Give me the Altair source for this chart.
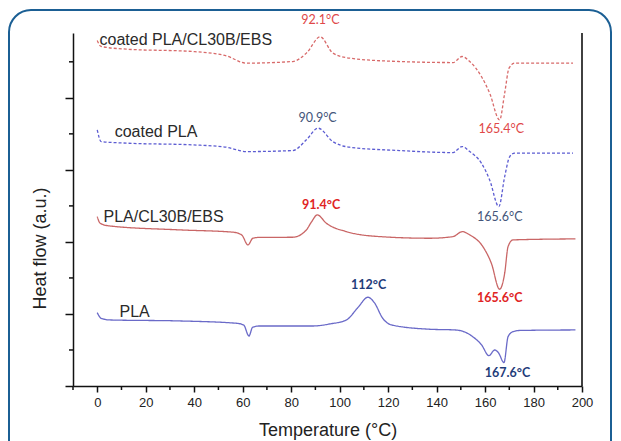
import altair as alt
import pandas as pd

# ---- data ----
pla_t = [0, 1.6, 5, 34, 57.4, 60.4, 62.6, 64.1, 67, 88.9, 95.9, 102.8, 107.4, 111.7, 114.4,
         117.7, 121.5, 137.1, 147.5, 151.6, 154.9, 158.6, 161.6, 164, 165.6, 167.8, 169.5,
         171.5, 174.3, 197.3]
pla_h = [1.018, 0.94, 0.917, 0.903, 0.871, 0.847, 0.694, 0.815, 0.833, 0.833, 0.861, 0.917,
         1.083, 1.232, 1.153, 0.944, 0.847, 0.788, 0.778, 0.75, 0.685, 0.569, 0.421, 0.5,
         0.458, 0.324, 0.685, 0.754, 0.771, 0.778]

ebs_t = [0, 1.2, 5, 34, 56, 59.6, 62.2, 64.2, 67, 80.7, 86.3, 88.4, 90.8, 94.5, 102.8, 116.5,
         137.1, 146.8, 150.6, 153.7, 159.1, 162.6, 166.0, 168.1, 169.5, 171.5, 197.3]
ebs_h = [2.351, 2.26, 2.222, 2.167, 2.135, 2.097, 1.958, 2.051, 2.063, 2.065, 2.167, 2.278,
         2.375, 2.26, 2.143, 2.074, 2.051, 2.074, 2.143, 2.097, 1.935, 1.704, 1.343, 1.565,
         1.935, 2.028, 2.042]

cpla_t = [0, 1.6, 12, 39.5, 53.2, 61.5, 80.7, 86.3, 91.1, 97.2, 104.1, 124.8, 146.8, 150.5,
          153.7, 158.5, 161.9, 165.7, 168.1, 170.2, 172.2, 196.3]
cpla_h = [3.556, 3.393, 3.371, 3.347, 3.315, 3.254, 3.268, 3.417, 3.579, 3.393, 3.315, 3.268,
          3.240, 3.324, 3.254, 3.093, 2.861, 2.490, 2.907, 3.185, 3.232, 3.232]

cebs_t = [0, 1.6, 12, 39.5, 53.2, 61.5, 80.7, 86.3, 92.0, 97.2, 104.1, 124.8, 146.8, 150.5,
          153.7, 158.5, 161.9, 166.0, 168.1, 169.9, 172.2, 196.3]
cebs_h = [4.796, 4.713, 4.676, 4.643, 4.583, 4.482, 4.504, 4.621, 4.847, 4.621, 4.551, 4.504,
          4.490, 4.574, 4.504, 4.296, 4.065, 3.694, 4.065, 4.413, 4.482, 4.482]

series_names = ["PLA", "PLA/CL30B/EBS", "coated PLA", "coated PLA/CL30B/EBS"]
series_colors = ["#6a6ac8", "#c96666", "#5c5cd2", "#d86a6a"]
series_dash = [[1, 0], [1, 0], [3, 2], [3, 2]]

# axis ticks
x_major = [0, 20, 40, 60, 80, 100, 120, 140, 160, 180, 200]
x_minor = [-10, 10, 30, 50, 70, 90, 110, 130, 150, 170, 190]
y_major = [0, 1, 2, 3, 4]
y_minor = [0.5, 1.5, 2.5, 3.5, 4.5]

# right edge of the plot box (T = 200, full height)
edge_t = [200, 200]
edge_h = [0, 4.9]

# curve name labels
name_text = ["PLA", "PLA/CL30B/EBS", "coated PLA", "coated PLA/CL30B/EBS"]
name_x = [9.2, 2.6, 7.2, 0.95]
name_y = [0.958, 2.27, 3.46, 4.736]

# temperature annotations
ann_text = ["112°C", "167.6°C", "91.4°C", "165.6°C", "90.9°C", "165.6°C", "92.1°C", "165.4°C"]
ann_x = [112, 169.3, 92.4, 166.1, 90.9, 166.1, 92.1, 166.7]
ann_y = [1.403, 0.185, 2.514, 1.218, 3.726, 2.351, 5.08, 3.565]
ann_color = ["#1f3d7a", "#1f3d7a", "#e02424", "#e02424", "#44557a", "#44557a", "#e04848", "#e04848"]
ann_bold = [True, True, True, True, False, False, False, False]

# ---- build tables ----
rows = []
for name, ts, hs in [("PLA", pla_t, pla_h), ("PLA/CL30B/EBS", ebs_t, ebs_h),
                     ("coated PLA", cpla_t, cpla_h), ("coated PLA/CL30B/EBS", cebs_t, cebs_h)]:
    for i, (t, h) in enumerate(zip(ts, hs)):
        rows.append({"series": name, "T": t, "H": h, "idx": i})
df = pd.DataFrame(rows)

names_df = pd.DataFrame({"x": name_x, "y": name_y, "text": name_text})
ann_df = pd.DataFrame({"x": ann_x, "y": ann_y, "text": ann_text, "c": ann_color, "b": ann_bold})
edge_df = pd.DataFrame({"ET": edge_t, "EH": edge_h, "k": [0, 1]})

W, H = 509, 353
xscale = alt.Scale(domain=[-10, 200], nice=False, zero=False)
yscale = alt.Scale(domain=[0, 4.9], nice=False, zero=False)

x_axis = alt.Axis(
    values=x_major, format="d",
    tickSize=6, tickColor="#111", tickWidth=1.5, domainColor="#111", domainWidth=1.5,
    labelFont="Liberation Sans", labelFontSize=13, labelColor="#222", labelPadding=4,
    labelOverlap=False, labelFlush=False,
    grid=False, title="Temperature (°C)", titleFont="Liberation Sans", titleFontSize=18,
    titleFontWeight="normal", titleColor="#222", titleY=44, titleBaseline="middle",
)
y_axis = alt.Axis(
    values=y_major, labels=False,
    tickSize=8, tickColor="#111", tickWidth=1.5, domainColor="#111", domainWidth=1.5,
    grid=False, title="Heat flow (a.u.)", titleFont="Liberation Sans", titleFontSize=18,
    titleFontWeight="normal", titleColor="#222", titleAngle=270, titleX=-33, titleY=215,
    titleBaseline="middle", titleAlign="center",
)

lines = alt.Chart(df).mark_line(strokeWidth=1.3, interpolate="monotone").encode(
    x=alt.X("T:Q", scale=xscale, axis=x_axis),
    y=alt.Y("H:Q", scale=yscale, axis=y_axis),
    color=alt.Color("series:N", scale=alt.Scale(domain=series_names, range=series_colors), legend=None),
    strokeDash=alt.StrokeDash("series:N", scale=alt.Scale(domain=series_names, range=series_dash), legend=None),
    detail="series:N",
    order="idx:Q",
)

edge = alt.Chart(edge_df).mark_line(color="#111", strokeWidth=1.6).encode(
    x=alt.X("ET:Q", scale=xscale),
    y=alt.Y("EH:Q", scale=yscale),
    order="k:Q",
)

x_minor_ticks = alt.Chart(pd.DataFrame({"xm": x_minor})).mark_rule(color="#111", strokeWidth=1.5).encode(
    x=alt.X("xm:Q", scale=xscale), y=alt.value(H), y2=alt.value(H + 4)
)
y_minor_ticks = alt.Chart(pd.DataFrame({"ym": y_minor})).mark_rule(color="#111", strokeWidth=1.5).encode(
    y=alt.Y("ym:Q", scale=yscale), x=alt.value(0), x2=alt.value(-4)
)

names = alt.Chart(names_df).mark_text(
    align="left", baseline="alphabetic", font="Liberation Sans", fontSize=16, color="#2a2a2a"
).encode(x=alt.X("x:Q", scale=xscale), y=alt.Y("y:Q", scale=yscale), text="text:N")

ann_bold_layer = alt.Chart(ann_df[ann_df.b]).mark_text(
    align="center", baseline="middle", font="Lato", fontSize=12.5, fontWeight="bold"
).encode(x=alt.X("x:Q", scale=xscale), y=alt.Y("y:Q", scale=yscale), text="text:N",
         color=alt.Color("c:N", scale=None))
ann_norm_layer = alt.Chart(ann_df[~ann_df.b]).mark_text(
    align="center", baseline="middle", font="Lato", fontSize=12.5
).encode(x=alt.X("x:Q", scale=xscale), y=alt.Y("y:Q", scale=yscale), text="text:N",
         color=alt.Color("c:N", scale=None))

frame = alt.Chart(pd.DataFrame({"a": [0]})).mark_rect(
    fillOpacity=0, stroke="#1b5f94", strokeWidth=2, cornerRadius=22
).encode(x=alt.value(-64), x2=alt.value(538), y=alt.value(-23), y2=alt.value(430))

chart = alt.layer(frame, lines, edge, x_minor_ticks, y_minor_ticks, names,
                  ann_bold_layer, ann_norm_layer).properties(
    width=W, height=H,
    padding={"left": 65, "top": 25, "right": 31, "bottom": 55},
    autosize=alt.AutoSizeParams(type="none"),
    background="white",
).configure_view(strokeWidth=0)

chart.save("out.html", embed_options={"renderer": "svg", "actions": False})
